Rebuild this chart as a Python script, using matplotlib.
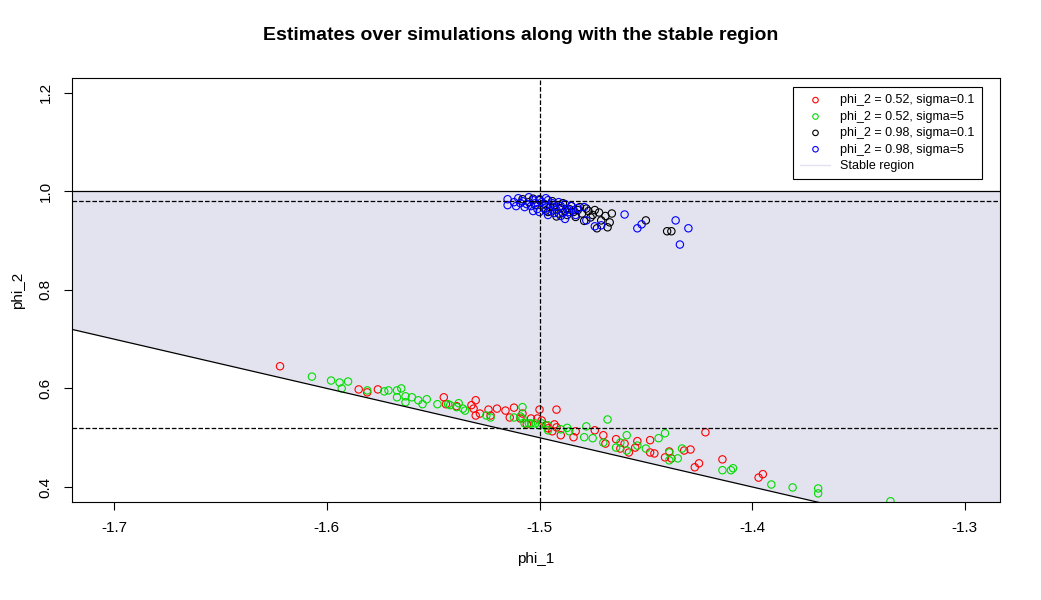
import matplotlib
matplotlib.use('Agg')
import matplotlib.pyplot as plt
import numpy as np

plt.rcParams['font.family'] = ['Liberation Sans', 'DejaVu Sans']

# phi_2 = 0.52, sigma = 0.1
red_x = [-1.622, -1.585, -1.581, -1.576, -1.545, -1.544, -1.539, -1.532, -1.531, -1.530,
         -1.530, -1.528, -1.524, -1.523, -1.520, -1.516, -1.514, -1.512, -1.509, -1.508,
         -1.506, -1.504, -1.501, -1.500, -1.499, -1.497, -1.494, -1.493, -1.492, -1.496,
         -1.492, -1.490, -1.483, -1.484, -1.474, -1.470, -1.469, -1.464, -1.460, -1.458,
         -1.454, -1.448, -1.448, -1.446, -1.439, -1.438, -1.441, -1.432, -1.429, -1.425,
         -1.427, -1.422, -1.414, -1.395, -1.397, -1.455, -1.462]
red_y = [0.645, 0.598, 0.592, 0.598, 0.582, 0.568, 0.564, 0.566, 0.559, 0.576,
         0.545, 0.549, 0.557, 0.545, 0.559, 0.555, 0.541, 0.561, 0.539, 0.549,
         0.527, 0.539, 0.539, 0.557, 0.535, 0.525, 0.513, 0.527, 0.557, 0.519,
         0.521, 0.505, 0.513, 0.501, 0.515, 0.505, 0.488, 0.497, 0.488, 0.470,
         0.493, 0.495, 0.470, 0.468, 0.472, 0.458, 0.460, 0.474, 0.476, 0.448,
         0.440, 0.511, 0.456, 0.426, 0.419, 0.480, 0.478]

# phi_2 = 0.52, sigma = 5
green_x = [-1.607, -1.598, -1.594, -1.590, -1.593, -1.581, -1.573, -1.571, -1.567, -1.565,
           -1.567, -1.563, -1.563, -1.560, -1.557, -1.555, -1.553, -1.548, -1.543, -1.542,
           -1.539, -1.538, -1.536, -1.535, -1.525, -1.523, -1.509, -1.508, -1.507, -1.504,
           -1.512, -1.505, -1.502, -1.500, -1.496, -1.499, -1.496, -1.486, -1.478, -1.468,
           -1.479, -1.475, -1.470, -1.464, -1.462, -1.459, -1.459, -1.454, -1.450, -1.444,
           -1.441, -1.439, -1.439, -1.435, -1.433, -1.414, -1.410, -1.409, -1.391, -1.381,
           -1.369, -1.369, -1.335, -1.508, -1.490, -1.487]
green_y = [0.624, 0.616, 0.612, 0.614, 0.600, 0.596, 0.594, 0.596, 0.596, 0.600,
           0.582, 0.584, 0.572, 0.582, 0.576, 0.568, 0.578, 0.568, 0.568, 0.566,
           0.562, 0.570, 0.559, 0.555, 0.545, 0.541, 0.543, 0.539, 0.529, 0.529,
           0.541, 0.529, 0.529, 0.525, 0.525, 0.529, 0.515, 0.513, 0.523, 0.537,
           0.501, 0.499, 0.490, 0.480, 0.490, 0.505, 0.474, 0.484, 0.478, 0.499,
           0.509, 0.470, 0.454, 0.458, 0.478, 0.434, 0.434, 0.438, 0.405, 0.399,
           0.397, 0.387, 0.371, 0.562, 0.517, 0.520]

# phi_2 = 0.98, sigma = 0.1
black_x = [-1.476, -1.472, -1.471, -1.473, -1.468, -1.466, -1.467, -1.450, -1.440, -1.438,
           -1.492, -1.497, -1.505, -1.502, -1.498, -1.495, -1.493, -1.490, -1.488, -1.486,
           -1.484, -1.482, -1.480, -1.478, -1.491, -1.487, -1.483, -1.500, -1.494, -1.489,
           -1.485, -1.481, -1.477, -1.475, -1.496, -1.508, -1.503, -1.479, -1.474, -1.469]
black_y = [0.947, 0.957, 0.941, 0.925, 0.927, 0.955, 0.937, 0.941, 0.919, 0.919,
           0.949, 0.961, 0.978, 0.972, 0.975, 0.968, 0.972, 0.966, 0.960, 0.964,
           0.958, 0.962, 0.955, 0.965, 0.955, 0.952, 0.948, 0.982, 0.980, 0.976,
           0.970, 0.968, 0.960, 0.952, 0.958, 0.984, 0.985, 0.940, 0.962, 0.950]

# phi_2 = 0.98, sigma = 5
blue_x = [-1.460, -1.454, -1.452, -1.436, -1.434, -1.430, -1.478, -1.474, -1.471, -1.479,
          -1.515, -1.515, -1.512, -1.510, -1.508, -1.506, -1.505, -1.503, -1.502, -1.500,
          -1.499, -1.497, -1.496, -1.494, -1.493, -1.491, -1.490, -1.488, -1.487, -1.485,
          -1.484, -1.482, -1.507, -1.504, -1.501, -1.498, -1.495, -1.492, -1.489, -1.486,
          -1.483, -1.509, -1.500, -1.496, -1.493, -1.511, -1.490, -1.497, -1.503, -1.488]
blue_y = [0.953, 0.925, 0.933, 0.941, 0.892, 0.925, 0.941, 0.929, 0.931, 0.968,
          0.984, 0.972, 0.978, 0.986, 0.980, 0.974, 0.988, 0.982, 0.976, 0.984,
          0.978, 0.972, 0.982, 0.976, 0.968, 0.978, 0.970, 0.974, 0.964, 0.970,
          0.962, 0.966, 0.968, 0.970, 0.964, 0.966, 0.960, 0.962, 0.956, 0.958,
          0.952, 0.976, 0.958, 0.952, 0.956, 0.970, 0.950, 0.986, 0.960, 0.944]

xlim = (-1.7198, -1.2835)
ylim = (0.3695, 1.230)

fig = plt.figure(figsize=(10.41, 6), dpi=100)
ax = fig.add_axes([72/1041, 98/600, 928/1041, 424/600])

xs = np.linspace(xlim[0] - 0.05, xlim[1] + 0.05, 50)
ax.fill_between(xs, -1 - xs, 1, color='#e3e3ef', linewidth=0)
ax.plot(xs, -1 - xs, color='black', linewidth=0.9)
ax.axhline(1.0, color='black', linewidth=0.9)
ax.axvline(-1.5, color='black', linestyle='--', linewidth=0.9)
ax.axhline(0.98, color='black', linestyle='--', linewidth=0.9)
ax.axhline(0.52, color='black', linestyle='--', linewidth=0.9)

ms = 28
ax.scatter(red_x, red_y, s=ms, facecolors='none', edgecolors='red', linewidths=0.8,
           label='phi_2 = 0.52, sigma=0.1')
ax.scatter(green_x, green_y, s=ms, facecolors='none', edgecolors='#00dd00', linewidths=0.8,
           label='phi_2 = 0.52, sigma=5')
ax.scatter(black_x, black_y, s=ms, facecolors='none', edgecolors='black', linewidths=0.8,
           label='phi_2 = 0.98, sigma=0.1')
ax.scatter(blue_x, blue_y, s=ms, facecolors='none', edgecolors='blue', linewidths=0.8,
           label='phi_2 = 0.98, sigma=5')
ax.plot([], [], color='#e3e3ef', linewidth=1, label='Stable region')

ax.set_xlim(xlim)
ax.set_ylim(ylim)
ax.set_xticks([-1.7, -1.6, -1.5, -1.4, -1.3])
ax.set_xticklabels(['-1.7', '-1.6', '-1.5', '-1.4', '-1.3'])
ax.set_yticks([0.4, 0.6, 0.8, 1.0, 1.2])
ax.set_yticklabels(['0.4', '0.6', '0.8', '1.0', '1.2'], rotation=90, va='center')
ax.tick_params(labelsize=11, length=6, pad=8)
ax.set_xlabel('phi_1', fontsize=11, labelpad=12)
ax.set_ylabel('phi_2', fontsize=11, labelpad=10)
fig.suptitle('Estimates over simulations along with the stable region',
             fontsize=14, fontweight='bold', y=0.955)

leg = ax.legend(loc='upper right', bbox_to_anchor=(0.981, 0.979), fontsize=9,
                fancybox=False, edgecolor='black', framealpha=1, borderaxespad=0,
                handletextpad=0.8, labelspacing=0.35, markerscale=0.75,
                handlelength=2.4, borderpad=0.6)
leg.get_frame().set_linewidth(0.8)

fig.savefig('out.png', dpi=100)
